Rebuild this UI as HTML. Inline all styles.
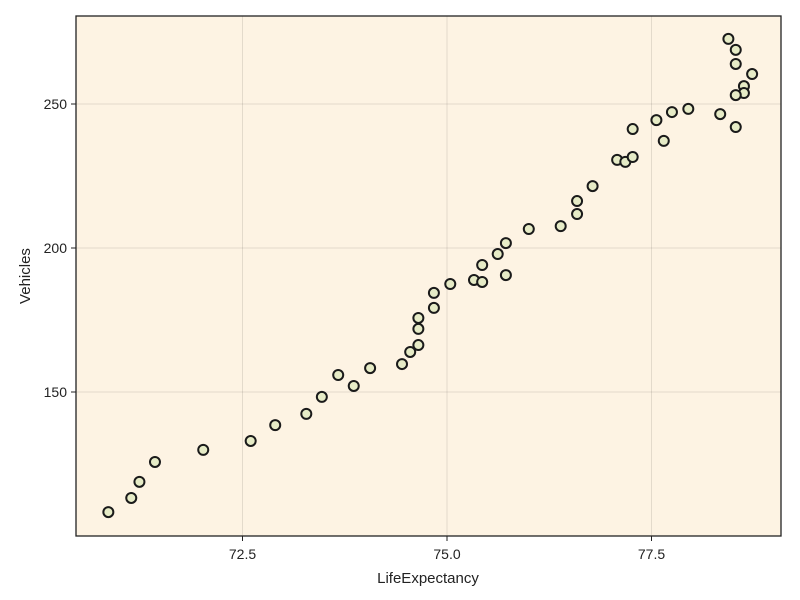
<!DOCTYPE html>
<html><head><meta charset="utf-8"><style>
html,body{margin:0;padding:0;background:#fff;}
svg{display:block;font-family:"Liberation Sans",sans-serif;}
</style></head><body>
<svg id="chart" width="800" height="600">
<rect x="76" y="16" width="705" height="520" fill="#fdf3e3"/>
<g id="grid"></g>
<g id="points"></g>
<rect x="76" y="16" width="705" height="520" fill="none" stroke="#222" stroke-width="1.3"/>
<g id="axes"></g>
<text x="428" y="583" font-size="15" text-anchor="middle" fill="#222">LifeExpectancy</text>
<text x="30" y="276" font-size="15" text-anchor="middle" fill="#222" transform="rotate(-90 30 276)">Vehicles</text>
</svg>
<script>
const lifeExpectancy=[70.86,71.14,71.24,71.43,72.02,72.60,72.90,73.28,73.47,73.67,73.86,74.06,74.45,74.55,74.65,74.65,74.65,74.84,74.84,75.04,75.33,75.43,75.43,75.62,75.72,75.72,76.00,76.39,76.59,76.59,76.78,77.08,77.18,77.27,77.27,77.56,77.65,77.75,77.95,78.34,78.44,78.53,78.53,78.73,78.63,78.63,78.53,78.53];
const vehicles=[108.3,113.2,118.8,125.7,129.9,133.0,138.5,142.4,148.3,155.9,152.1,158.3,159.7,163.9,166.3,171.9,175.7,179.2,184.4,187.5,188.9,188.2,194.1,197.9,201.7,190.6,206.6,207.6,211.8,216.3,221.5,230.6,229.9,231.6,241.3,244.4,237.2,247.2,248.3,246.5,272.6,268.8,263.9,260.4,256.2,253.8,253.1,242.0];
const xTicks=[72.5,75.0,77.5];
const xTickLabels=["72.5","75.0","77.5"];
const yTicks=[150,200,250];
const yTickLabels=["150","200","250"];
const NS="http://www.w3.org/2000/svg";
function xs(v){return 447+(v-75)*81.8;}
function ys(v){return 248-(v-200)*2.88;}
function mk(tag,attrs,parent){const e=document.createElementNS(NS,tag);for(const k in attrs)e.setAttribute(k,attrs[k]);parent.appendChild(e);return e;}
const grid=document.getElementById('grid'),axes=document.getElementById('axes'),pts=document.getElementById('points');
xTicks.forEach((t,i)=>{
 const l=mk('line',{x1:xs(t),x2:xs(t),y1:16,y2:536,stroke:'#000','stroke-opacity':0.1},grid);
 
 
 const tk=mk('line',{x1:xs(t),x2:xs(t),y1:536,y2:541,stroke:'#222'},axes);
 
 
 const tx=mk('text',{x:xs(t),y:559,'font-size':14,'text-anchor':'middle',fill:'#222'},axes);
 tx.textContent=xTickLabels[i];
 
 
});
yTicks.forEach((t,i)=>{
 const l=mk('line',{x1:76,x2:781,y1:ys(t),y2:ys(t),stroke:'#000','stroke-opacity':0.1},grid);
 
 
 const tk=mk('line',{x1:71,x2:76,y1:ys(t),y2:ys(t),stroke:'#222'},axes);
 
 
 const tx=mk('text',{x:67,y:ys(t)+5,'font-size':14,'text-anchor':'end',fill:'#222'},axes);
 tx.textContent=yTickLabels[i];
 
 
});
lifeExpectancy.forEach((v,i)=>{
 const c=mk('circle',{cx:xs(v),cy:ys(vehicles[i]),r:5,fill:'#e6ebc6',stroke:'#1a1a1a','stroke-width':2},pts);
 
 
});
</script>
</body></html>
